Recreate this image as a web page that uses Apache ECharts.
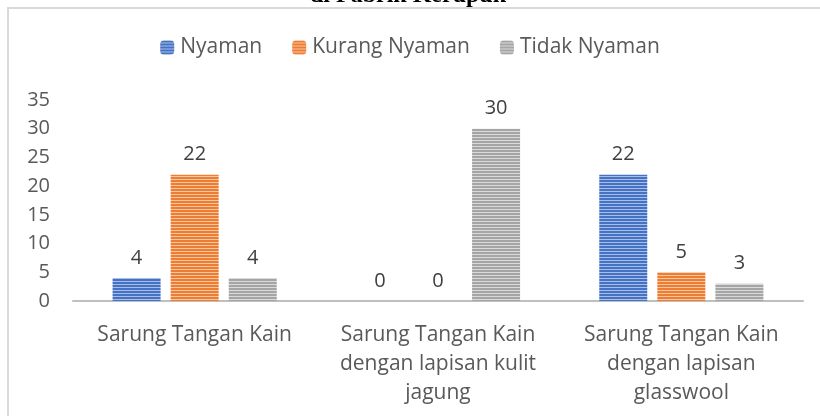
<!DOCTYPE html>
<html><head><meta charset="utf-8">
<script src="https://cdn.jsdelivr.net/npm/echarts@6/dist/echarts.min.js"></script>
<style>html,body{margin:0;padding:0;background:#fff}#c{width:820px;height:416px}</style>
</head><body><div id="c"></div>
<script>
var categories = ['Sarung Tangan Kain', 'Sarung Tangan Kain\ndengan lapisan kulit\njagung', 'Sarung Tangan Kain\ndengan lapisan\nglasswool'];
var seriesNames = ['Nyaman', 'Kurang Nyaman', 'Tidak Nyaman'];
var nyaman = [4, 0, 22];
var kurangNyaman = [22, 0, 5];
var tidakNyaman = [4, 30, 3];
var yTicks = [0, 5, 10, 15, 20, 25, 30, 35];
var titleText = 'di Pabrik Kerupuk';

function stripe(main, light) {
  var cv = document.createElement('canvas');
  cv.width = 8; cv.height = 3;
  var ctx = cv.getContext('2d');
  ctx.fillStyle = main; ctx.fillRect(0, 0, 8, 2);
  ctx.fillStyle = light; ctx.fillRect(0, 2, 8, 1);
  return { image: cv, repeat: 'repeat' };
}
var colors = [stripe('#4472C4', '#A9BEE6'), stripe('#ED7D31', '#F8C6A3'), stripe('#A5A5A5', '#DADADA')];
var font = '"Open Sans", sans-serif';
var chart = echarts.init(document.getElementById('c'));
var data = [nyaman, kurangNyaman, tidakNyaman];
chart.setOption({
  animation: false,
  graphic: [
    { type: 'rect', shape: { x: 8, y: 8, width: 840, height: 440 }, style: { fill: 'none', stroke: '#D9D9D9', lineWidth: 2 } },
    { type: 'text', x: 408, y: 8, style: { text: titleText, fill: '#000', font: 'bold 24px "Liberation Serif", serif', textAlign: 'center', textVerticalAlign: 'bottom' } }
  ],
  legend: {
    top: 32, left: 'center', itemWidth: 14, itemHeight: 14, itemGap: 30,
    data: seriesNames,
    textStyle: { fontFamily: font, fontSize: 21, color: '#595959', padding: [0, 0, 0, 1] }
  },
  grid: { left: 73, right: 17, top: 100, bottom: 115 },
  xAxis: {
    type: 'category', data: categories,
    axisLine: { lineStyle: { color: '#BFBFBF', width: 2 } },
    axisTick: { show: false },
    axisLabel: { fontFamily: font, fontSize: 21, color: '#595959', margin: 20, lineHeight: 29, interval: 0 }
  },
  yAxis: {
    type: 'value', min: 0, max: 35, interval: 5,
    splitLine: { show: false },
    axisLabel: { fontFamily: font, fontSize: 20, color: '#595959', margin: 23 }
  },
  series: seriesNames.map(function (n, i) {
    return {
      name: n, type: 'bar', data: data[i], barWidth: 48, barGap: '21%',
      itemStyle: { color: colors[i] },
      label: { show: true, position: 'top', distance: 10, fontFamily: font, fontSize: 20, color: '#404040' }
    };
  })
});
</script></body></html>
